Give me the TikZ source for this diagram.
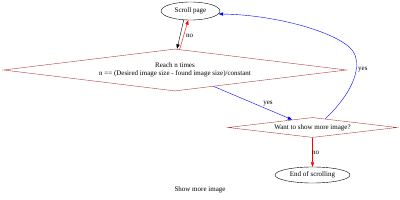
\documentclass[tikz,border=0pt]{standalone}
\usepackage{fontspec}
\setmainfont{Liberation Serif}
\usetikzlibrary{shapes.geometric,arrows.meta}
\definecolor{dborder}{RGB}{180,60,60}
\tikzset{
  every node/.style={font=\fontsize{7}{8.5}\selectfont, inner sep=0pt},
  ell/.style={ellipse, draw=black, line width=0.4pt},
  dia/.style={diamond, draw=dborder, line width=0.4pt, align=center},
  lbl/.style={font=\fontsize{7}{8.5}\selectfont},
  arr/.style={line width=0.4pt, -{Triangle[length=4.5pt,width=3.2pt]}},
}
\begin{document}
\begin{tikzpicture}[x=1pt,y=-1pt]
\useasboundingbox (0,0) rectangle (400,200);
\node[ell, minimum width=59pt, minimum height=18pt] (scroll) at (190.5,11) {Scroll page};
\node[dia, aspect=8.2, minimum width=343pt, minimum height=42pt] (d1) at (175,70) {Reach n times\\n == (Desired image size - found image size)/constant};
\node[dia, aspect=8.45, minimum width=169pt, minimum height=20pt] (d2) at (312.5,127.5) {Want to show more image?};
\node[ell, minimum width=75pt, minimum height=16pt] (end) at (312.5,175) {End of scrolling};
\node (cap) at (200,190) {Show more image};

\draw[arr, black] (scroll.-127) -- ([xshift=2pt]d1.north);
\draw[arr, red] ([xshift=4.5pt,yshift=-1pt]d1.north) -- (scroll.-104);
\node[lbl, anchor=west] (l1) at (186,36) {no};

\draw[arr, blue] (d1.-23) -- (d2.159);
\node[lbl] (l2) at (268,104) {yes};

\draw[arr, red] (d2.south) -- (end.north);
\node[lbl, anchor=west] (l3) at (312,153) {no};

\draw[arr, blue] (d2.34) .. controls (345,100) and (362,75) .. (355,55)
  .. controls (348,35) and (280,15) .. (scroll.-6);
\node[lbl, anchor=west] (l4) at (358,70) {yes};
\end{tikzpicture}
\end{document}
